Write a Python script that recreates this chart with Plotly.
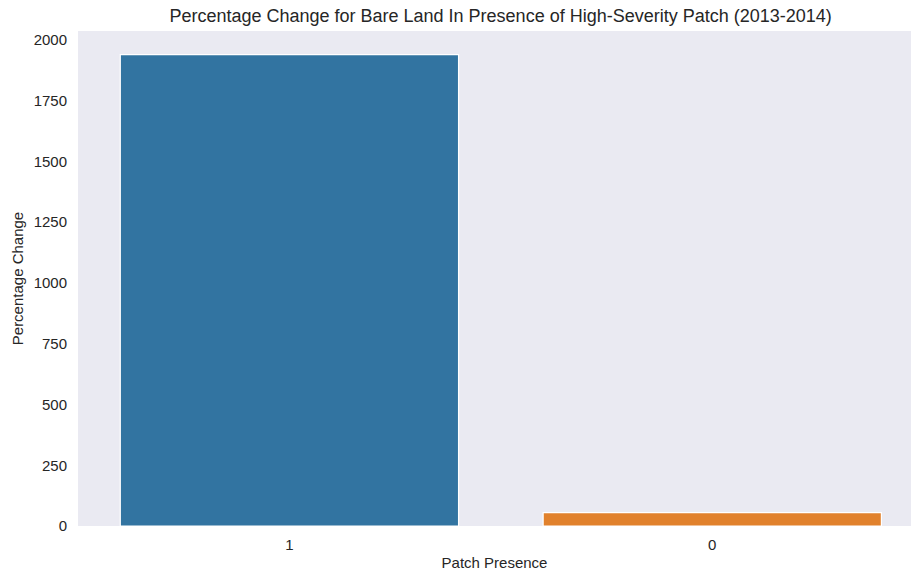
import plotly.graph_objects as go

# Patch presence categories and percentage change of bare land
categories = ["1", "0"]
pct_change = [1940, 55]
bar_colors = ["#3274A1", "#E1812C"]

fig = go.Figure(
    go.Bar(
        x=categories,
        y=pct_change,
        marker=dict(color=bar_colors, line=dict(color="white", width=1.2)),
        width=0.8,
    )
)

font_family = "Liberation Sans, Arial, sans-serif"

fig.update_layout(
    width=911,
    height=571,
    margin=dict(l=78, r=0, t=31, b=45),
    paper_bgcolor="white",
    plot_bgcolor="#EAEAF2",
    showlegend=False,
    font=dict(family=font_family, color="#262626", size=15),
    title=dict(
        text="Percentage Change for Bare Land In Presence of High-Severity Patch (2013-2014)",
        x=0.5495,
        xanchor="center",
        y=0.972,
        yanchor="middle",
        font=dict(size=18, color="#262626"),
    ),
    xaxis=dict(
        type="category",
        range=[-0.5, 1.47],
        showgrid=False,
        zeroline=False,
        showline=False,
        ticks="",
        ticklabelstandoff=8,
        tickfont=dict(size=15),
        title=dict(text="Patch Presence", font=dict(size=15), standoff=6),
    ),
    yaxis=dict(
        range=[0, 2037],
        tickvals=[0, 250, 500, 750, 1000, 1250, 1500, 1750, 2000],
        showgrid=False,
        zeroline=False,
        showline=False,
        ticks="",
        ticklabelstandoff=10,
        tickfont=dict(size=15),
        title=dict(text="Percentage Change", font=dict(size=15), standoff=6),
    ),
)

fig.write_html("out.html")
